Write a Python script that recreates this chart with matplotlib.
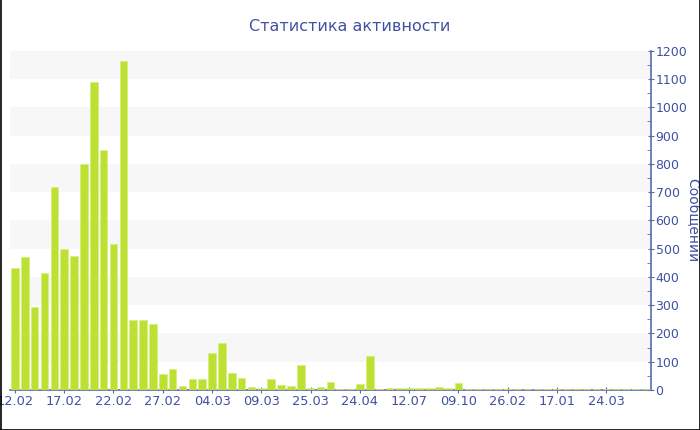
import numpy as np
import matplotlib
matplotlib.use("Agg")
import matplotlib.pyplot as plt
from matplotlib.lines import Line2D
from matplotlib.ticker import MultipleLocator

# messages per day (days without activity are skipped)
messages = [
    430, 470, 292, 415, 718, 497, 473, 800, 1091, 850,
    515, 1165, 247, 247, 235, 56, 76, 14, 40, 38,
    130, 165, 59, 44, 11, 7, 39, 16, 13, 88,
    6, 10, 29, 5, 5, 21, 121, 5, 7, 7,
    6, 7, 6, 10, 7, 24, 4, 4, 5, 4,
    5, 5, 4, 4, 4, 5, 4, 4, 5, 4,
    4, 4, 5, 4, 4,
]
# every fifth day gets a date label
date_labels = ["12.02", "17.02", "22.02", "27.02", "04.03", "09.03", "25.03",
               "24.04", "12.07", "09.10", "26.02", "17.01", "24.03"]

TXT = "#3f51a0"
AXC = "#5a6cae"
BAR = "#bde133"

fig = plt.figure(figsize=(7, 4.3), dpi=100)
ax = fig.add_axes([10 / 700, 40 / 430, 640.7 / 700, 339.3 / 430])

x = np.arange(len(messages))
ax.bar(x, messages, width=0.76, color=BAR, edgecolor="#d4ee7a",
       linewidth=0.5, zorder=3)

# alternating horizontal bands
for lo in range(100, 1200, 200):
    ax.axhspan(lo, lo + 100, color="#f7f7f7", lw=0, zorder=0)

ax.set_xlim(-0.5, len(messages) - 0.5)
ax.set_ylim(0, 1200)

ax.set_xticks(np.arange(0, 5 * len(date_labels), 5))
ax.set_xticklabels(date_labels)
ax.yaxis.tick_right()
ax.yaxis.set_label_position("right")
ax.yaxis.set_major_locator(MultipleLocator(100))
ax.yaxis.set_minor_locator(MultipleLocator(50))

for s in ("top", "left"):
    ax.spines[s].set_visible(False)
for s in ("bottom", "right"):
    ax.spines[s].set_color(AXC)
    ax.spines[s].set_linewidth(1.2)

ax.tick_params(axis="x", direction="inout", length=5, color=AXC,
               labelcolor=TXT, labelsize=9.3, pad=1)
ax.tick_params(axis="y", which="major", direction="inout", length=5,
               color=AXC, labelcolor=TXT, labelsize=9, pad=1)
ax.tick_params(axis="y", which="minor", direction="in", length=3,
               color=AXC)

ax.set_ylabel("Сообщений", color=TXT, fontsize=10, rotation=270,
              labelpad=3)
ax.yaxis.set_label_coords(1.076, 0.5)

fig.text(0.499, 0.938, "Статистика активности", ha="center", va="center",
         color=TXT, fontsize=11.5)

# thin black frame on the left, right and bottom edges
for xs, ys in (([0.5 / 700, 0.5 / 700], [0, 1]),
               ([699.5 / 700, 699.5 / 700], [0, 1]),
               ([0, 1], [0.5 / 430, 0.5 / 430])):
    fig.add_artist(Line2D(xs, ys, color="black", lw=1.2,
                          transform=fig.transFigure))

fig.savefig("out.png", dpi=100)
